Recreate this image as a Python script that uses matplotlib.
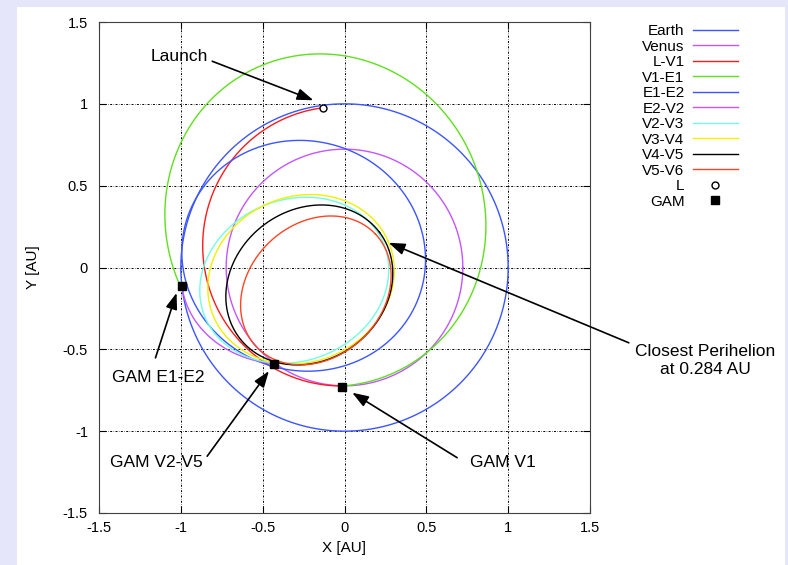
import numpy as np
import matplotlib.pyplot as plt
from matplotlib.patches import Rectangle

plt.rcParams['font.family'] = ['Liberation Sans', 'DejaVu Sans']
plt.rcParams['axes.unicode_minus'] = False

# planet orbits, circles about the Sun [AU]
planet_names = ['Earth', 'Venus']
planet_radius = [1.0, 0.723]
planet_colors = ['#3d55ff', '#c455ff']

# transfer legs as Kepler arcs (a [AU], e, arg. of perihelion, start/end longitude [deg])
kep_names = ['L-V1', 'V1-E1', 'E1-E2', 'E2-V2']
kep_a = [0.8535, 1.0225, 0.748, 0.6534]
kep_e = [0.154, 0.305, 0.347, 0.53]
kep_w = [-80.0, -68.0, -16.0, 5.8]
kep_start = [97.6, 268.8, 186.3, 186.3]
kep_end = [268.8, 546.3, 546.3, 233.8]
kep_colors = ['#ff1a1a', '#5fe01e', '#3d55ff', '#c455ff']

# Venus resonant loops (centre, semi-axes, tilt [deg])
loop_names = ['V2-V3', 'V3-V4', 'V4-V5', 'V5-V6']
loop_cx = [-0.307, -0.2655, -0.215, -0.175]
loop_cy = [-0.078, -0.072, -0.1065, -0.14]
loop_rx = [0.59, 0.581, 0.536, 0.501]
loop_ry = [0.4925, 0.505, 0.46, 0.409]
loop_tilt = [22.0, 23.5, 36.8, 43.4]
loop_colors = ['#70ffe0', '#f0f000', '#000000', '#ff4422']

# events
launch_x = [-0.13]
launch_y = [0.975]
gam_x = [-0.993, -0.428, -0.015]
gam_y = [-0.11, -0.589, -0.73]

# annotations: text, text pos, arrow tail, arrow tip
notes = [
    ('Launch', (-1.008, 1.289), (-0.808, 1.260), (-0.19, 1.022)),
    ('Closest Perihelion\nat 0.284 AU', (2.205, -0.568), (1.737, -0.46), (0.27, 0.151)),
    ('GAM E1-E2', (-1.136, -0.672), (-1.155, -0.552), (-1.026, -0.155)),
    ('GAM V2-V5', (-1.148, -1.191), (-0.839, -1.153), (-0.462, -0.633)),
    ('GAM V1', (0.965, -1.191), (0.688, -1.162), (0.047, -0.765)),
]

fig = plt.figure(figsize=(7.88, 5.65), dpi=100)
fig.patch.set_facecolor('#e6e6fa')
fig.add_artist(Rectangle((17 / 788, 0), 768 / 788, 558 / 565, transform=fig.transFigure,
                         facecolor='white', edgecolor='none', zorder=-10))
ax = fig.add_axes([99 / 788, 52 / 565, 491 / 788, 491 / 565])

t = np.linspace(0, 2 * np.pi, 721)
for name, r, c in zip(planet_names, planet_radius, planet_colors):
    ax.plot(r * np.cos(t), r * np.sin(t), color=c, lw=1.0, label=name)

for name, a, e, w, th0, th1, c in zip(kep_names, kep_a, kep_e, kep_w,
                                      kep_start, kep_end, kep_colors):
    th = np.radians(np.linspace(th0, th1, 600))
    r = a * (1 - e ** 2) / (1 + e * np.cos(th - np.radians(w)))
    ax.plot(r * np.cos(th), r * np.sin(th), color=c, lw=1.0, label=name)

for name, cx, cy, rx, ry, tilt, c in zip(loop_names, loop_cx, loop_cy, loop_rx,
                                         loop_ry, loop_tilt, loop_colors):
    phi = np.radians(tilt)
    ex, ey = rx * np.cos(t), ry * np.sin(t)
    ax.plot(cx + ex * np.cos(phi) - ey * np.sin(phi),
            cy + ex * np.sin(phi) + ey * np.cos(phi), color=c, lw=1.0, label=name)

ax.plot(launch_x, launch_y, 'o', mfc='white', mec='black', mew=1.0, ms=5, ls='none', label='L')
ax.plot(gam_x, gam_y, 's', color='black', ms=6, ls='none', label='GAM')

for txt, tpos, tail, tip in notes:
    ax.text(tpos[0], tpos[1], txt, ha='center', va='center', fontsize=12.5,
            clip_on=False, linespacing=1.3)
    ax.annotate('', xy=tip, xytext=tail, annotation_clip=False,
                arrowprops=dict(arrowstyle='-|>,head_length=0.7,head_width=0.25',
                                color='black', lw=1.2, mutation_scale=14,
                                shrinkA=0, shrinkB=0))

ax.set_xlim(-1.5, 1.5)
ax.set_ylim(-1.5, 1.5)
ticks = [-1.5, -1, -0.5, 0, 0.5, 1, 1.5]
ax.set_xticks(ticks)
ax.set_yticks(ticks)
ax.set_xticklabels(['%g' % v for v in ticks])
ax.set_yticklabels(['%g' % v for v in ticks])
ax.tick_params(direction='in', top=True, right=True, length=5, width=0.8, labelsize=10.5)
ax.tick_params(axis='x', pad=6)
ax.tick_params(axis='y', pad=8)
ax.grid(True, color='black', lw=0.7, linestyle=(0, (2, 1.5, 0.5, 1.5)))
for s in ax.spines.values():
    s.set_color('#404040')
    s.set_linewidth(0.8)
ax.set_xlabel('X [AU]', fontsize=11, labelpad=4)
ax.set_ylabel('Y [AU]', fontsize=11, labelpad=16)

fig.legend(loc='upper right', bbox_to_anchor=(738 / 788, 541 / 565), frameon=False,
           markerfirst=False, fontsize=11, handlelength=2.95, handletextpad=0.55,
           labelspacing=0.1, borderpad=0, borderaxespad=0)

fig.savefig('out.png', dpi=100, facecolor=fig.get_facecolor())
